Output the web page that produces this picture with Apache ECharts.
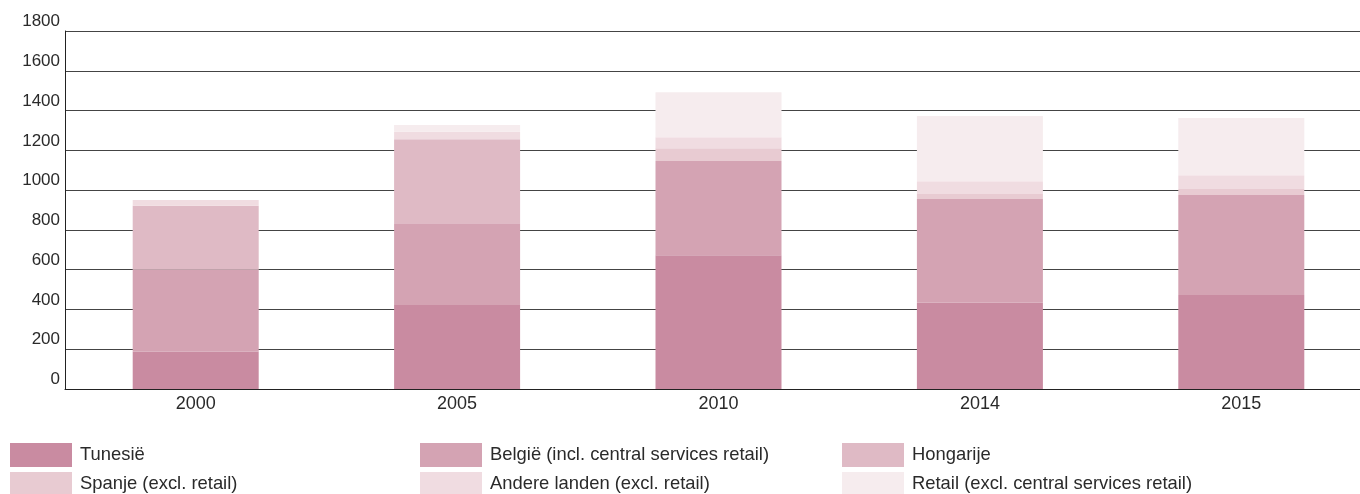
<!DOCTYPE html>
<html><head><meta charset="utf-8">
<script src="https://cdn.jsdelivr.net/npm/echarts@6/dist/echarts.min.js"></script>
<style>html,body{margin:0;padding:0;background:#fff}#c{width:1360px;height:494px}</style>
</head><body><div id="c"></div>
<script>
const categories = ['2000','2005','2010','2014','2015'];
const seriesNames = ['Tunesië','België (incl. central services retail)','Hongarije','Spanje (excl. retail)','Andere landen (excl. retail)','Retail (excl. central services retail)'];
const tunesie   = [187, 422, 673, 434, 472];
const belgie    = [413, 412, 473, 521, 503];
const hongarije = [321, 422, 0, 0, 0];
const spanje    = [0, 0, 65, 25, 30];
const andere    = [29, 37, 55, 65, 70];
const retail    = [0, 34, 226, 327, 287];
const yTicks = {min: 0, max: 1800, interval: 200};

const colors = ['#c98ba1','#d4a3b3','#dfbac5','#e8cbd2','#f0dce1','#f6ecee'];
const values = [tunesie, belgie, hongarije, spanje, andere, retail];

const chart = echarts.init(document.getElementById('c'), null, {renderer:'canvas'});
const font = 'Liberation Sans, Arial, sans-serif';
const legendPos = [[10,443],[420,443],[842,443],[10,472],[420,472],[842,472]];
const legends = seriesNames.map((n, i) => ({
  orient: 'vertical', itemWidth: 62, itemHeight: 24, itemGap: 0, icon: 'rect',
  left: legendPos[i][0], top: legendPos[i][1], padding: 0, selectedMode: false,
  textStyle: {fontFamily: font, fontSize: 18.4, color: '#2a2a2a', padding: [6,0,0,3]},
  data: [n]
}));
chart.setOption({
  animation: false,
  color: colors,
  textStyle: {fontFamily: font},
  grid: {left: 65, width: 1307, top: 31, bottom: 105, containLabel: false, outerBoundsMode: 'none'},
  legend: legends,
  xAxis: {
    type: 'category', data: categories,
    axisLine: {show: true, lineStyle: {color: '#222', width: 1}},
    axisTick: {show: false},
    axisLabel: {color: '#2a2a2a', fontSize: 18, margin: 6, fontFamily: font}
  },
  yAxis: {
    type: 'value', min: yTicks.min, max: yTicks.max, interval: yTicks.interval,
    axisLine: {show: true, lineStyle: {color: '#222', width: 1}},
    axisTick: {show: false},
    splitLine: {show: true, lineStyle: {color: '#444', width: 1}},
    axisLabel: {color: '#2a2a2a', fontSize: 17, margin: 5, verticalAlign: 'bottom', padding: [0,0,1,0], fontFamily: font,
      formatter: v => String(v)}
  },
  series: seriesNames.map((n, i) => ({
    name: n, type: 'bar', stack: 'total', barWidth: 126,
    data: values[i], itemStyle: {color: colors[i]}
  }))
});
</script></body></html>
